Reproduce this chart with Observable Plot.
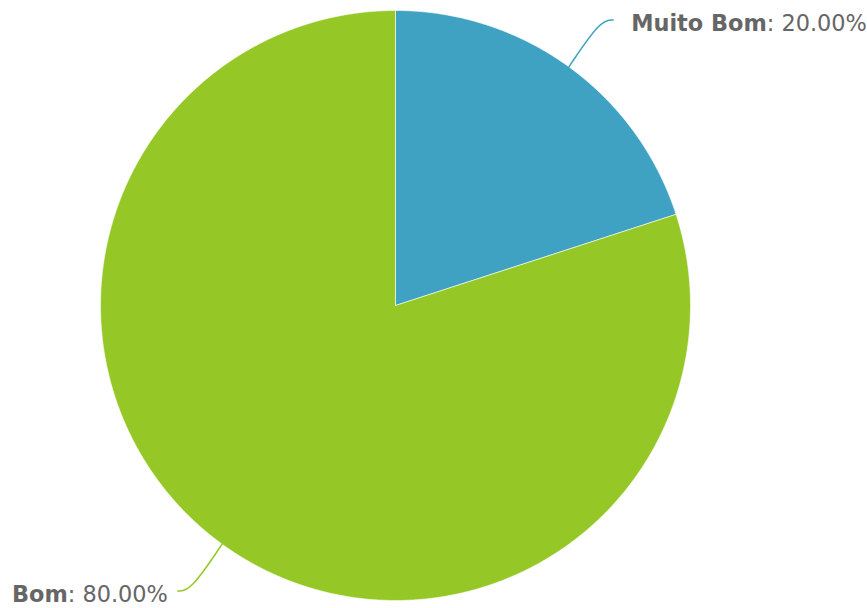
<!DOCTYPE html>
<html><head><meta charset="utf-8">
<script src="https://cdn.jsdelivr.net/npm/d3@7"></script>
<script src="https://cdn.jsdelivr.net/npm/@observablehq/plot@0.6"></script>
<style>body{margin:0;background:#fff}</style>
</head><body><div id="chart"></div>
<script>
// Data
const categories = ["Muito Bom", "Bom"];
const values = [20, 80];
const valueLabels = ["20.00%", "80.00%"];
const colors = ["#3fa2c3", "#95c827"];

// Layout (pixels)
const W = 867, H = 608, CX = 395, CY = 305, R = 295;
const FONT = "DejaVu Sans", FS = 22.4, TEXT = "#666666";

const pie = d3.pie().sort(null).value(d => d.value)(categories.map((c, i) => ({cat: c, value: values[i], i})));

// slice polygons in unit-radius coordinates (y up)
const slicePts = [];
pie.forEach(p => {
  const n = Math.max(2, Math.ceil((p.endAngle - p.startAngle) / (Math.PI / 720)));
  slicePts.push({cat: p.data.cat, x: 0, y: 0});
  for (let k = 0; k <= n; k++) {
    const a = p.startAngle + (p.endAngle - p.startAngle) * k / n;
    slicePts.push({cat: p.data.cat, x: Math.sin(a), y: Math.cos(a)});
  }
  slicePts.push({cat: p.data.cat, x: 0, y: 0});
});

// connectors: from slice edge at mid-angle, bending horizontal near label
const conn = [];
const labels = [];
const ctx = document.createElement("canvas").getContext("2d");
const measure = (t, w) => { ctx.font = `${w} ${FS}px "${FONT}"`; return ctx.measureText(t).width; };
pie.forEach(p => {
  const m = (p.startAngle + p.endAngle) / 2;
  const sx = Math.sin(m), sy = Math.cos(m);
  const side = sx >= 0 ? 1 : -1;
  const ex = side * 0.738, ey = Math.sign(sy) * 0.968;
  const cx = side * 0.695, cy = ey;
  conn.push({cat: p.data.cat, x: sx, y: sy}, {cat: p.data.cat, x: cx, y: cy}, {cat: p.data.cat, x: ex, y: ey});
  const name = p.data.cat, val = ": " + valueLabels[p.data.i];
  const wn = measure(name, "bold"), wv = measure(val, "normal");
  let x0;
  if (side > 0) x0 = ex + 18 / R; else x0 = ex - (10 + wn + wv) / R;
  labels.push({t: name, x: x0, y: ey, bold: true});
  labels.push({t: val, x: x0 + wn / R, y: ey, bold: false});
});

const chart = Plot.plot({
  width: W, height: H,
  margin: 0,
  x: {domain: [-CX / R, (W - CX) / R], range: [0, W], axis: null},
  y: {domain: [-(H - CY) / R, CY / R], range: [H, 0], axis: null},
  color: {domain: categories, range: colors},
  style: {fontFamily: FONT, background: "#fff"},
  marks: [
    Plot.line(slicePts, {x: "x", y: "y", z: "cat", fill: "cat", stroke: "#ffffff", strokeWidth: 0.6, strokeLinejoin: "round", curve: "linear"}),
    Plot.line(conn, {x: "x", y: "y", z: "cat", stroke: "cat", strokeWidth: 1.5, curve: "basis"}),
    Plot.text(labels.filter(d => d.bold), {x: "x", y: "y", text: "t", textAnchor: "start", fontWeight: "bold", fontSize: FS, fill: TEXT, dy: 4}),
    Plot.text(labels.filter(d => !d.bold), {x: "x", y: "y", text: "t", textAnchor: "start", fontWeight: "normal", fontSize: FS, fill: TEXT, dy: 4})
  ]
});
document.getElementById("chart").appendChild(chart);
</script>
</body></html>
